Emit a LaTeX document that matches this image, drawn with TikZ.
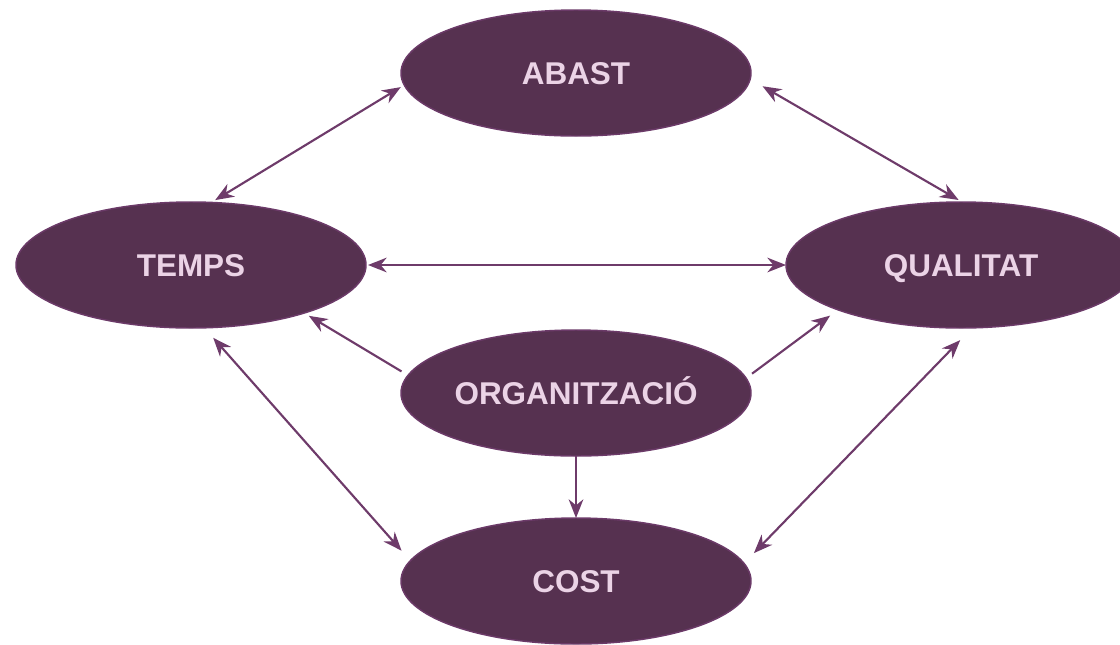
\documentclass[tikz,border=0pt]{standalone}
\usepackage{fontspec}
\setmainfont{Liberation Sans}
\usetikzlibrary{arrows.meta,shapes.geometric}
\definecolor{nodefill}{HTML}{563150}
\definecolor{nodeline}{HTML}{6B3A68}
\definecolor{nodetext}{HTML}{EBD3E6}
\definecolor{arrowcol}{HTML}{6E3B6A}
\begin{document}
\begin{tikzpicture}[x=0.75pt,y=-0.75pt,
  ell/.style={ellipse, draw=nodeline, line width=1.1pt, fill=nodefill,
    minimum width=262.5pt, minimum height=94.5pt, inner sep=0pt, outer sep=0pt,
    text=nodetext, text height=16.8pt, text depth=0pt,
    font=\fontsize{23.6}{28}\selectfont\bfseries},
  conn/.style={draw=arrowcol, line width=1.6pt},
  tipm/.tip={Stealth[length=14pt,width=11pt,inset=4.5pt]},
  both/.style={conn, tipm-tipm},
  one/.style={conn, -tipm}]
\useasboundingbox (0,0) rectangle (1120,644);
\node[ell] (abast) at (576,73) {ABAST};
\node[ell] (temps) at (191,265) {TEMPS};
\node[ell] (qual) at (961,265) {QUALITAT};
\node[ell] (org) at (576,393) {ORGANITZACIÓ};
\node[ell] (cost) at (576,581) {COST};
\draw[both, shorten <=3pt, shorten >=3.4pt] (abast.184.3) -- (temps.72.2);
\draw[both, shorten <=10.7pt, shorten >=3pt] (abast.-2.6) -- (qual.89.6);
\draw[both, shorten <=1.5pt] (temps.east) -- (qual.west);
\draw[one, shorten <=5.7pt, shorten >=4pt] (org.174.2) -- (temps.-23.2);
\draw[one, shorten <=5.6pt, shorten >=7.3pt] (org.5.65) -- (qual.200.6);
\draw[one] (org.south) -- (cost.north);
\draw[both, shorten <=10pt, shorten >=10pt] (temps.-78.2) -- (cost.173.2);
\draw[both, shorten <=12.8pt, shorten >=10.7pt] (qual.-80.2) -- (cost.6.8);
\end{tikzpicture}
\end{document}
